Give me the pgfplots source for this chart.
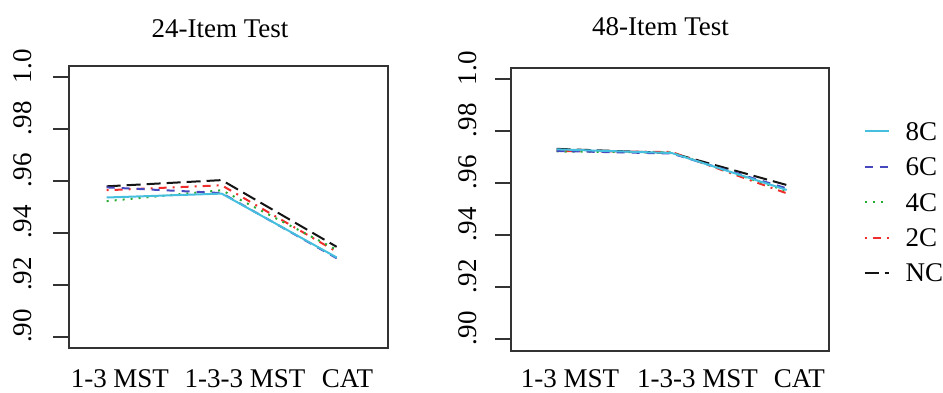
\documentclass[border=0pt]{standalone}
\usepackage{fontspec}
\setmainfont{Liberation Serif}
\usepackage{pgfplots}
\pgfplotsset{compat=1.18}
\definecolor{c8}{RGB}{70,190,222}
\definecolor{c6}{RGB}{72,72,190}
\definecolor{c4}{RGB}{40,170,50}
\definecolor{c2}{RGB}{240,45,45}
\definecolor{cn}{RGB}{20,20,20}
\begin{document}
\fontsize{13.5}{16}\selectfont
\begin{tikzpicture}
\pgfplotsset{
  panel/.style={
    scale only axis, anchor=south west,
    ymin=0.8956, ymax=1.0044,
    ytick={0.90,0.92,0.94,0.96,0.98,1.0},
    yticklabels={.90,.92,.94,.96,.98,1.0},
    xticklabels={1-3 MST,1-3-3 MST,CAT},
    axis line style={black!80, line width=0.9pt},
    xtick pos=bottom, ytick pos=left,
    tick align=outside, major tick length=8pt,
    xtick style={draw=none},
    ytick style={black!80, line width=0.9pt},
    title style={at={(0.5,1)}, anchor=base, inner sep=0pt},
    every axis plot/.append style={line width=1pt, no markers},
    legend image code/.code={\draw[##1] (0pt,0pt) -- (12pt,0pt); \path (20pt,0pt);},
  },
  s8/.style={c8, solid},
  s6/.style={c6, dash pattern=on 4pt off 3.5pt},
  s4/.style={c4, dash pattern=on 1pt off 3pt},
  s2/.style={c2, dash pattern=on 1pt off 3pt on 4pt off 3pt},
  sn/.style={cn, dash pattern=on 7pt off 3pt},
}
\begin{axis}[panel, at={(34.65pt,21.85pt)}, width=159.5pt, height=141.2pt,
  xmin=0.675, xmax=3.449, xtick={1.115,2.203,3.094},
  xticklabel style={anchor=base, inner sep=0pt, yshift=-11.5pt},
  yticklabel style={xshift=-11pt, yshift=5.5pt, rotate=90, anchor=base, inner sep=0pt},
  title={24-Item Test}, title style={yshift=8pt, xshift=-4.4pt}]
\addplot[sn] coordinates {(1,0.9580) (2,0.9604) (3,0.9347)};
\addplot[s2] coordinates {(1,0.9565) (2,0.9584) (3,0.9328)};
\addplot[s4] coordinates {(1,0.9523) (2,0.9565) (3,0.9336)};
\addplot[s6] coordinates {(1,0.9576) (2,0.9554) (3,0.9303)};
\addplot[s8] coordinates {(1,0.9537) (2,0.9552) (3,0.9306)};
\end{axis}
\begin{axis}[panel, at={(255.35pt,20.65pt)}, width=159.3pt, height=141.5pt,
  xmin=0.6, xmax=3.37, xtick={1.116,2.224,3.109},
  xticklabel style={anchor=base, inner sep=0pt, yshift=-10.3pt},
  yticklabel style={xshift=-9.2pt, yshift=5.5pt, rotate=90, anchor=base, inner sep=0pt},
  title={48-Item Test}, title style={yshift=10pt, xshift=-4.75pt},
  reverse legend, legend cell align=left,
  legend style={at={(axis description cs:1,0.525)}, anchor=west, xshift=16.9pt,
    draw=none, fill=none, inner sep=0pt, row sep=8.7pt,
    nodes={inner sep=0pt, text height=9pt, text depth=0pt}}]
\addplot[sn] coordinates {(1,0.9732) (2,0.9716) (3,0.9593)};
\addlegendentry{NC}
\addplot[s2] coordinates {(1,0.9724) (2,0.9720) (3,0.9561)};
\addlegendentry{2C}
\addplot[s4] coordinates {(1,0.9722) (2,0.9718) (3,0.9570)};
\addlegendentry{4C}
\addplot[s6] coordinates {(1,0.9724) (2,0.9714) (3,0.9580)};
\addlegendentry{6C}
\addplot[s8] coordinates {(1,0.9730) (2,0.9716) (3,0.9574)};
\addlegendentry{8C}
\end{axis}
\pgfresetboundingbox
\path[use as bounding box] (0pt,0pt) rectangle (471.5pt,196pt);
\end{tikzpicture}
\end{document}
